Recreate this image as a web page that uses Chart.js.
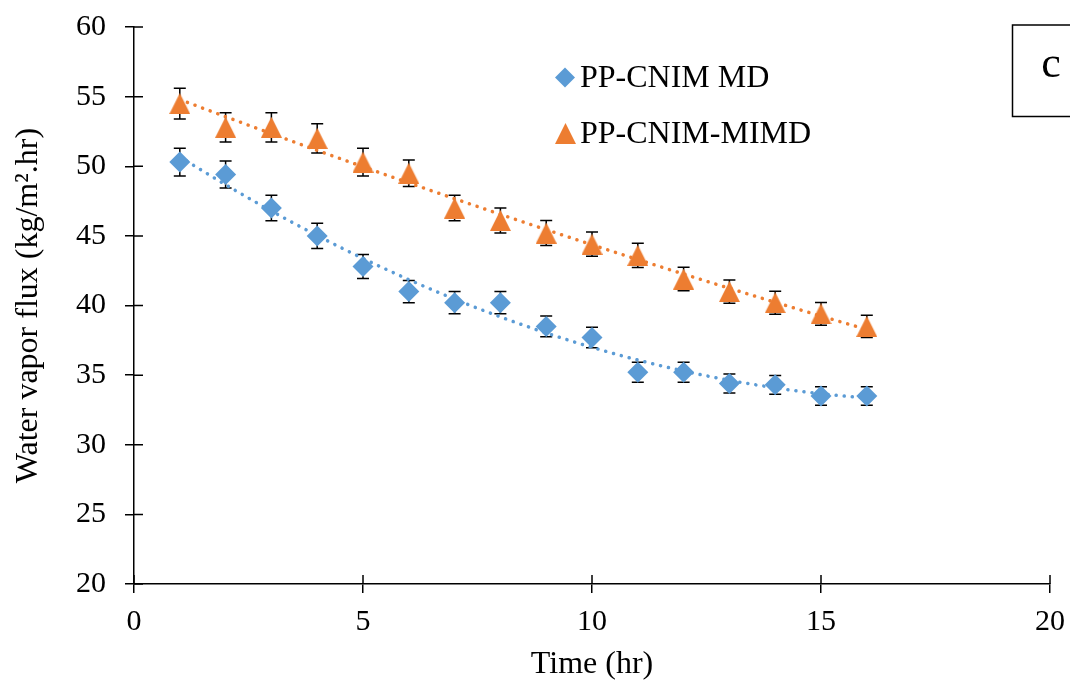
<!DOCTYPE html>
<html><head><meta charset="utf-8">
<script src="https://cdn.jsdelivr.net/npm/chart.js@4.4.0/dist/chart.umd.min.js"></script>
<style>html,body{margin:0;padding:0;background:#fff}</style>
</head><body>
<canvas id="c" width="1070" height="681"></canvas>
<script>
// ---- data ----
const timeHr   = [1,2,3,4,5,6,7,8,9,10,11,12,13,14,15,16];
const fluxMD   = [50.3,49.4,47.0,45.0,42.8,41.0,40.2,40.2,38.5,37.7,35.2,35.2,34.4,34.3,33.5,33.5];
const errMD    = [1.0,0.97,0.92,0.9,0.86,0.8,0.8,0.8,0.75,0.73,0.72,0.72,0.68,0.68,0.67,0.67];
const fluxMIMD = [54.5,52.8,52.8,52.0,50.3,49.5,47.0,46.1,45.2,44.4,43.6,41.9,41.0,40.2,39.4,38.5];
const errMIMD  = [1.1,1.05,1.05,1.05,1.0,0.95,0.92,0.9,0.9,0.87,0.87,0.84,0.83,0.83,0.81,0.8];
const xTickVals = [0,5,10,15,20];
const yTickVals = [20,25,30,35,40,45,50,55,60];
const seriesNames = ['PP-CNIM MD','PP-CNIM-MIMD'];
const xTitle = 'Time (hr)';
const yTitle = 'Water vapor flux (kg/m\u00B2.hr)';
const panelLabel = 'c';

const BLUE = '#5B9BD5', ORANGE = '#ED7D31';
const FONT = 'Liberation Serif';

// quadratic least-squares trendline computed from the data
function polyFit(xs, ys, order) {
  const n = order + 1;
  const A = Array.from({length:n}, () => new Array(n+1).fill(0));
  for (let k = 0; k < xs.length; k++) {
    for (let i = 0; i < n; i++) {
      for (let j = 0; j < n; j++) A[i][j] += Math.pow(xs[k], i + j);
      A[i][n] += ys[k] * Math.pow(xs[k], i);
    }
  }
  for (let i = 0; i < n; i++) {
    let p = i;
    for (let r = i+1; r < n; r++) if (Math.abs(A[r][i]) > Math.abs(A[p][i])) p = r;
    [A[i], A[p]] = [A[p], A[i]];
    for (let r = 0; r < n; r++) {
      if (r === i) continue;
      const f = A[r][i] / A[i][i];
      for (let c = i; c <= n; c++) A[r][c] -= f * A[i][c];
    }
  }
  return A.map((row, i) => row[n] / row[i]);
}
function trend(xs, ys, order) {
  const co = polyFit(xs, ys, order);
  const pts = [];
  const x0 = xs[0], x1 = xs[xs.length-1];
  for (let i = 0; i <= 150; i++) {
    const x = x0 + (x1 - x0) * i / 150;
    let y = 0;
    co.forEach((c, p) => y += c * Math.pow(x, p));
    pts.push({x, y});
  }
  return pts;
}

function triangleImg(w, h, color) {
  const cv = document.createElement('canvas');
  cv.width = w; cv.height = h;
  const g = cv.getContext('2d');
  g.fillStyle = color;
  g.beginPath(); g.moveTo(w/2, 0); g.lineTo(w, h); g.lineTo(0, h); g.closePath(); g.fill();
  return cv;
}
const triStyle = triangleImg(21, 21, ORANGE);

const errorBars = {
  id: 'errorBars',
  beforeDatasetsDraw(chart) {
    const {ctx, scales:{x, y}} = chart;
    ctx.save();
    ctx.strokeStyle = '#000'; ctx.lineWidth = 1.5;
    [[fluxMD, errMD], [fluxMIMD, errMIMD]].forEach(([vals, errs]) => {
      vals.forEach((v, i) => {
        const px = x.getPixelForValue(timeHr[i]);
        const t = y.getPixelForValue(v + errs[i]);
        const b = y.getPixelForValue(v - errs[i]);
        ctx.beginPath();
        ctx.moveTo(px, t); ctx.lineTo(px, b);
        ctx.moveTo(px - 6, t); ctx.lineTo(px + 6, t);
        ctx.moveTo(px - 6, b); ctx.lineTo(px + 6, b);
        ctx.stroke();
      });
    });
    ctx.restore();
  }
};

const innerTicks = {
  id: 'innerTicks',
  afterDraw(chart) {
    const {ctx, scales:{x, y}, chartArea:ca} = chart;
    ctx.save();
    ctx.strokeStyle = '#000'; ctx.lineWidth = 1.5;
    ctx.beginPath();
    xTickVals.forEach(v => { const px = x.getPixelForValue(v); ctx.moveTo(px, ca.bottom); ctx.lineTo(px, ca.bottom - 9); });
    yTickVals.forEach(v => { const py = y.getPixelForValue(v); ctx.moveTo(ca.left, py); ctx.lineTo(ca.left + 9, py); });
    ctx.stroke();
    ctx.restore();
  }
};

const legendAndLabel = {
  id: 'legendAndLabel',
  afterDraw(chart) {
    const ctx = chart.ctx;
    ctx.save();
    // legend
    ctx.fillStyle = BLUE;
    ctx.beginPath();
    ctx.moveTo(565, 67.5); ctx.lineTo(575, 77.5); ctx.lineTo(565, 87.5); ctx.lineTo(555, 77.5); ctx.closePath(); ctx.fill();
    ctx.drawImage(triStyle, 555, 123);
    ctx.fillStyle = '#000';
    ctx.font = '32px "' + FONT + '"';
    ctx.textBaseline = 'alphabetic';
    ctx.textAlign = 'left';
    ctx.fillText(seriesNames[0], 580, 87);
    ctx.fillText(seriesNames[1], 580, 143);
    // panel label box
    ctx.strokeStyle = '#000'; ctx.lineWidth = 1.5;
    ctx.strokeRect(1012.5, 25, 70, 91.5);
    ctx.font = '44px "' + FONT + '"';
    ctx.textAlign = 'center';
    ctx.fillText(panelLabel, 1051, 76.5);
    ctx.restore();
  }
};

const tickFont = {family: FONT, size: 30};
const titleFont = {family: FONT, size: 32};

new Chart(document.getElementById('c'), {
  type: 'scatter',
  data: {
    datasets: [
      {label: seriesNames[0], data: timeHr.map((t,i)=>({x:t, y:fluxMD[i]})), pointStyle:'rectRot', pointRadius:10.5, backgroundColor:BLUE, borderColor:BLUE, borderWidth:0, order:1},
      {label: seriesNames[1], data: timeHr.map((t,i)=>({x:t, y:fluxMIMD[i]})), pointStyle:triStyle, backgroundColor:ORANGE, borderColor:ORANGE, order:1},
      {label: 'trend MD', type:'line', data: trend(timeHr, fluxMD, 2), borderColor:BLUE, borderWidth:3.5, borderDash:[0.1,8], borderCapStyle:'round', pointRadius:0, fill:false, order:2},
      {label: 'trend MIMD', type:'line', data: trend(timeHr, fluxMIMD, 2), borderColor:ORANGE, borderWidth:3.5, borderDash:[0.1,8], borderCapStyle:'round', pointRadius:0, fill:false, order:2}
    ]
  },
  options: {
    responsive: false,
    animation: false,
    events: [],
    layout: {padding: {top: 27, right: 20, left: 0, bottom: 0}},
    plugins: {legend: {display: false}, tooltip: {enabled: false}},
    scales: {
      x: {
        type: 'linear', min: 0, max: 20,
        afterBuildTicks: s => { s.ticks = xTickVals.map(v => ({value: v})); },
        afterFit: s => { s.height = 97; s.paddingLeft = 0; s.paddingRight = 0; },
        ticks: {font: tickFont, color: '#000', padding: 11, maxRotation: 0},
        grid: {drawOnChartArea: false, tickLength: 9, color: '#000', lineWidth: 1.5},
        border: {color: '#000', width: 1.5},
        title: {display: true, text: xTitle, font: titleFont, color: '#000', padding: {top: 0, bottom: -3}}
      },
      y: {
        type: 'linear', min: 20, max: 60,
        afterBuildTicks: s => { s.ticks = yTickVals.map(v => ({value: v})); },
        afterFit: s => { s.width = 134; s.paddingTop = 0; s.paddingBottom = 0; },
        ticks: {font: tickFont, color: '#000', padding: 19},
        grid: {drawOnChartArea: false, tickLength: 9, color: '#000', lineWidth: 1.5},
        border: {color: '#000', width: 1.5},
        title: {display: true, text: yTitle, font: titleFont, color: '#000', padding: {top: 9, bottom: 0}}
      }
    }
  },
  plugins: [errorBars, innerTicks, legendAndLabel]
});
</script>
</body></html>
